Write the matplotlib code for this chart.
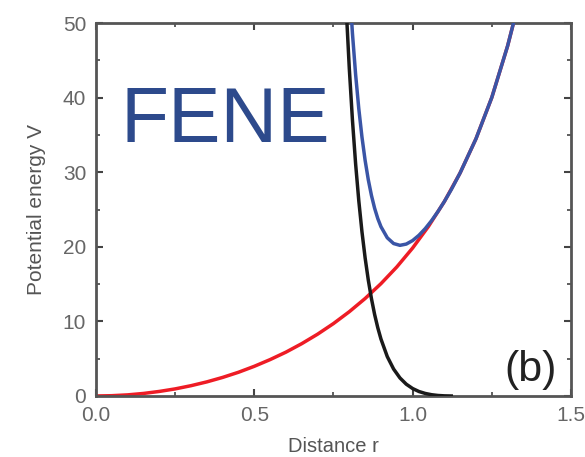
import matplotlib
matplotlib.use('Agg')
import matplotlib.pyplot as plt
from matplotlib.ticker import MultipleLocator

plt.rcParams['font.family'] = ['Liberation Sans', 'DejaVu Sans']

# FENE attractive part (red)
r_fene = [0.0, 0.05, 0.1, 0.15, 0.2, 0.25, 0.3, 0.35, 0.4, 0.45, 0.5, 0.55, 0.6,
          0.65, 0.7, 0.75, 0.8, 0.85, 0.9, 0.95, 1.0, 1.05, 1.1, 1.15, 1.2,
          1.25, 1.3, 1.32]
v_fene = [0.0, 0.04, 0.15, 0.34, 0.61, 0.95, 1.38, 1.89, 2.49, 3.18, 3.98, 4.88,
          5.88, 7.02, 8.29, 9.71, 11.30, 13.07, 15.06, 17.30, 19.84, 22.73,
          26.05, 29.91, 34.48, 40.02, 46.94, 50.25]

# repulsive WCA part (black)
r_wca = [0.79, 0.80, 0.81, 0.82, 0.83, 0.84, 0.85, 0.86, 0.87, 0.88, 0.89, 0.90,
         0.92, 0.94, 0.96, 0.98, 1.00, 1.02, 1.04, 1.06, 1.08, 1.10, 1.122]
v_wca = [52.23, 43.95, 36.98, 31.12, 26.19, 22.03, 18.52, 15.55, 13.05, 10.93,
         9.15, 7.64, 5.28, 3.61, 2.42, 1.58, 1.00, 0.60, 0.34, 0.17, 0.07,
         0.02, 0.0]

# total bond potential (blue)
r_total = [0.79, 0.80, 0.81, 0.82, 0.83, 0.84, 0.85, 0.86, 0.87, 0.88, 0.89, 0.90,
           0.92, 0.94, 0.96, 0.98, 1.00, 1.02, 1.04, 1.06, 1.08, 1.10, 1.122,
           1.15, 1.2, 1.25, 1.3, 1.32]
v_total = [63.20, 55.25, 48.61, 43.10, 38.53, 34.73, 31.59, 29.00, 26.89, 25.17,
           23.79, 22.70, 21.21, 20.44, 20.20, 20.37, 20.84, 21.55, 22.45, 23.52,
           24.73, 26.06, 27.67, 29.91, 34.48, 40.02, 46.94, 50.25]

fig = plt.figure(figsize=(5.85, 4.57), dpi=100)
ax = fig.add_axes([0.164, 0.1335, 0.812, 0.816])

ax.plot(r_fene, v_fene, color='#ee1c25', lw=2.5, zorder=2)
ax.plot(r_wca, v_wca, color='#1a1a1a', lw=2.5, zorder=3)
ax.plot(r_total, v_total, color='#3a55a6', lw=2.5, zorder=4)

ax.set_xlim(0, 1.5)
ax.set_ylim(0, 50)
ax.xaxis.set_major_locator(MultipleLocator(0.5))
ax.xaxis.set_minor_locator(MultipleLocator(0.25))
ax.yaxis.set_major_locator(MultipleLocator(10))
ax.yaxis.set_minor_locator(MultipleLocator(5))
ax.xaxis.set_major_formatter(lambda v, p: f'{v:.1f}')

ax.tick_params(which='both', direction='in', top=True, right=True,
               color='#444444', labelcolor='#666666', labelsize=15)
ax.tick_params(which='major', length=5, width=1.5, pad=7)
ax.tick_params(which='minor', length=3, width=1.2)
for s in ax.spines.values():
    s.set_color('#555555')
    s.set_linewidth(2)

ax.set_xlabel('Distance r', fontsize=14.5, color='#555555', labelpad=9)
ax.set_ylabel('Potential energy V', fontsize=15, color='#555555', labelpad=12)

ax.text(0.079, 34.0, 'FENE', fontsize=56.5, color='#2d4a8c', va='baseline', ha='left')
ax.text(1.455, 0.8, '(b)', fontsize=31, color='#222222', va='bottom', ha='right')

fig.savefig('out.png', dpi=100)
